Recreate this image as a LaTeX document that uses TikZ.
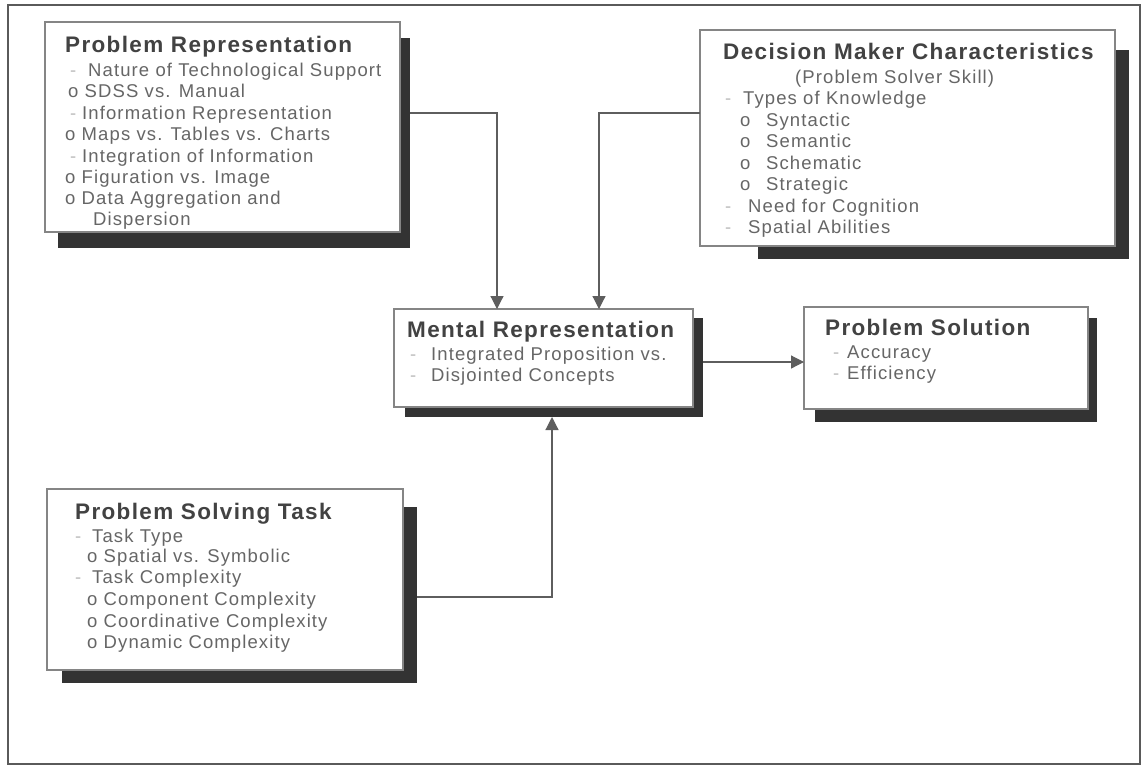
\documentclass[tikz,border=0pt]{standalone}
\usepackage{fontspec}
\setmainfont{Liberation Sans}[LetterSpace=6]
\usetikzlibrary{arrows.meta}
\definecolor{frameclr}{HTML}{5A5A5A}
\definecolor{boxline}{HTML}{858585}
\definecolor{shade}{HTML}{333333}
\definecolor{titleclr}{HTML}{424242}
\definecolor{itemclr}{HTML}{666666}
\definecolor{dashclr}{HTML}{BDBDBD}
\definecolor{connclr}{HTML}{5E5E5E}
\tikzset{
  panel/.style={draw=boxline, line width=1.3pt, fill=white, inner sep=0pt, outer sep=0pt, anchor=north west},
  shadowbox/.style={fill=shade, draw=none, inner sep=0pt, outer sep=0pt, anchor=north west},
  ttl/.style={anchor=base west, inner sep=0pt, text=titleclr, font=\fontsize{22.5}{22.5}\selectfont\bfseries},
  itm/.style={anchor=base west, inner sep=0pt, text=itemclr, font=\fontsize{18.5}{18.5}\selectfont},
  dsh/.style={anchor=base west, inner sep=0pt, text=dashclr, font=\fontsize{18.5}{18.5}\selectfont},
  conn/.style={draw=connclr, line width=1.2pt},
  arr/.style={conn, -{Triangle[width=13pt,length=13pt]}},
}
\begin{document}
\begin{tikzpicture}[x=1pt,y=-1pt]
\useasboundingbox (0,0) rectangle (1146,769);
\fill[white] (0,0) rectangle (1146,769);
\draw[frameclr, line width=2pt] (8,5) rectangle (1140,764);

% junction points of the elbow connectors
\coordinate (j1) at (497,113);
\coordinate (j2) at (599,113);
\coordinate (j3) at (552,597);
\coordinate (j4) at (0,362);

% drop shadows
\node[shadowbox, minimum width=352pt, minimum height=210pt] (s1) at (58,38) {};
\node[shadowbox, minimum width=371pt, minimum height=209pt] (s2) at (758,50) {};
\node[shadowbox, minimum width=298pt, minimum height=99pt] (s3) at (405,318) {};
\node[shadowbox, minimum width=282pt, minimum height=104pt] (s4) at (815,318) {};
\node[shadowbox, minimum width=355pt, minimum height=176pt] (s5) at (62,507) {};

% panels
\node[panel, minimum width=355pt, minimum height=210pt] (b1) at (45,22) {};
\node[panel, minimum width=415pt, minimum height=216pt] (b2) at (700,30) {};
\node[panel, minimum width=299pt, minimum height=98pt] (b3) at (394,309) {};
\node[panel, minimum width=284pt, minimum height=102pt] (b4) at (804,307) {};
\node[panel, minimum width=356pt, minimum height=181pt] (b5) at (47,489) {};

% connectors
\draw[arr] (s1.east |- j1) -| (b3.north -| j1);
\draw[arr] (b2.west |- j2) -| (b3.north -| j2);
\draw[arr] (s5.east |- j3) -| (s3.south -| j3);
\draw[arr] (s3.east |- j4) -- (b4.west |- j4);

% Problem Representation
\node[ttl] (t1) at (65,52) {Problem Representation};
\node[dsh] (d11) at (70,76) {-};
\node[itm] (i11) at (88,76) {Nature of Technological Support};
\node[itm] (i12) at (68,97) {o SDSS vs. Manual};
\node[dsh] (d13) at (70,119) {-};
\node[itm] (i13) at (82,119) {Information Representation};
\node[itm] (i14) at (65,140) {o Maps vs. Tables vs. Charts};
\node[dsh] (d15) at (70,162) {-};
\node[itm] (i15) at (82,162) {Integration of Information};
\node[itm] (i16) at (65,183) {o Figuration vs. Image};
\node[itm] (i17) at (65,204) {o Data Aggregation and};
\node[itm] (i18) at (93,225) {Dispersion};

% Decision Maker Characteristics
\node[ttl] (t2) at (723,59) {Decision Maker Characteristics};
\node[itm] (i20) at (795,83) {(Problem Solver Skill)};
\node[dsh] (d21) at (725,104) {-};
\node[itm] (i21) at (743,104) {Types of Knowledge};
\node[itm] (o22) at (740,126) {o};
\node[itm] (i22) at (766,126) {Syntactic};
\node[itm] (o23) at (740,147) {o};
\node[itm] (i23) at (766,147) {Semantic};
\node[itm] (o24) at (740,169) {o};
\node[itm] (i24) at (766,169) {Schematic};
\node[itm] (o25) at (740,190) {o};
\node[itm] (i25) at (766,190) {Strategic};
\node[dsh] (d26) at (725,212) {-};
\node[itm] (i26) at (748,212) {Need for Cognition};
\node[dsh] (d27) at (725,233) {-};
\node[itm] (i27) at (748,233) {Spatial Abilities};

% Mental Representation
\node[ttl] (t3) at (407,337) {Mental Representation};
\node[dsh] (d31) at (410,360) {-};
\node[itm] (i31) at (431,360) {Integrated Proposition vs.};
\node[dsh] (d32) at (410,381) {-};
\node[itm] (i32) at (431,381) {Disjointed Concepts};

% Problem Solution
\node[ttl] (t4) at (825,335) {Problem Solution};
\node[dsh] (d41) at (833,358) {-};
\node[itm] (i41) at (847,358) {Accuracy};
\node[dsh] (d42) at (833,379) {-};
\node[itm] (i42) at (847,379) {Efficiency};

% Problem Solving Task
\node[ttl] (t5) at (75,519) {Problem Solving Task};
\node[dsh] (d51) at (75,542) {-};
\node[itm] (i51) at (92,542) {Task Type};
\node[itm] (i52) at (87,562) {o Spatial vs. Symbolic};
\node[dsh] (d53) at (75,583) {-};
\node[itm] (i53) at (92,583) {Task Complexity};
\node[itm] (i54) at (87,605) {o Component Complexity};
\node[itm] (i55) at (87,627) {o Coordinative Complexity};
\node[itm] (i56) at (87,648) {o Dynamic Complexity};
\end{tikzpicture}
\end{document}
